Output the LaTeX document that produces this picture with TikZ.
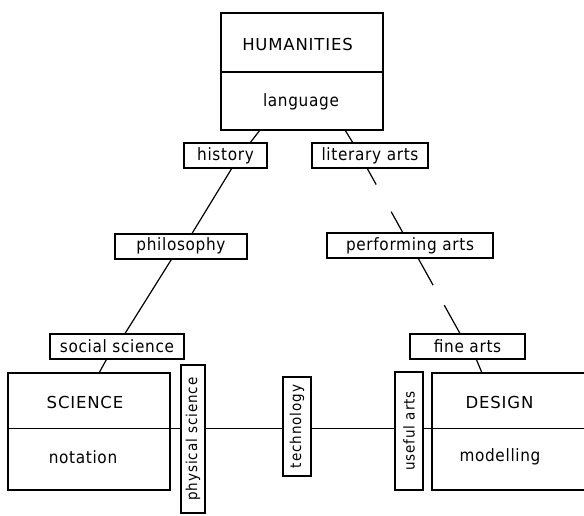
\documentclass[tikz,border=0pt]{standalone}
\usepackage{fontspec}
\usepackage{graphicx}
\usetikzlibrary{calc}
\newfontfamily\labfont[LetterSpace=4]{DejaVu Sans Condensed}
\newfontfamily\capfont[LetterSpace=5]{DejaVu Sans}
\newfontfamily\vfont[LetterSpace=6]{DejaVu Sans Condensed}
\tikzset{
  framebox/.style={draw, line width=2pt, inner sep=0pt, outer sep=0pt},
  lab/.style={framebox, minimum height=25pt, font={\labfont\fontsize{17pt}{19pt}\selectfont}},
  vlab/.style={framebox, font={\vfont\fontsize{15pt}{17pt}\selectfont}},
  bigbox/.style={framebox, minimum height=117pt},
  captext/.style={inner sep=0pt, font={\capfont\fontsize{16.5pt}{18pt}\selectfont}},
  lowtext/.style={inner sep=0pt, font={\labfont\fontsize{17pt}{19pt}\selectfont}},
  conn/.style={line width=1.2pt},
  divider/.style={line width=1.4pt}
}
\begin{document}
\begin{tikzpicture}[x=1pt,y=-1pt]
\useasboundingbox (0,0) rectangle (584,515);
\fill[white] (0,0) rectangle (584,515);
\clip (0,0) rectangle (584,515);

% main boxes
\node[bigbox, minimum width=162pt] (hum) at (302,71.5) {};
\node[captext] (humT) at (297.5,44) {HUMANITIES};
\node[lowtext] (humL) at (301,101.5) {language};
\draw[divider] ($(hum.west)+(0,0.5)$) -- ($(hum.east)+(0,0.5)$);

\node[bigbox, minimum width=162pt] (sci) at (89,431.5) {};
\node[captext] (sciT) at (85,402) {SCIENCE};
\node[lowtext] (sciL) at (83,457) {notation};

\node[bigbox, minimum width=172pt] (des) at (518,431.5) {};
\node[captext] (desT) at (499.5,402) {DESIGN};
\node[lowtext] (desL) at (500,457) {modelling};

% labels
\node[lab, minimum width=83pt] (hist) at (225.5,155.5) {history};
\node[lab, minimum width=116pt] (lit) at (370,155.5) {literary arts};
\node[lab, minimum width=132pt] (phil) at (181,246) {philosophy};
\node[lab, minimum width=166pt] (perf) at (410,245.5) {performing arts};
\node[lab, minimum width=134pt] (soc) at (117,346) {social science};
\node[lab, minimum width=115pt] (fine) at (467.5,346) {fine arts};

% vertical labels
\node[vlab, minimum width=24pt, minimum height=148pt] (phys) at (193,439) {\rotatebox{90}{physical science}};
\node[vlab, minimum width=28pt, minimum height=99pt] (tech) at (297,426.5) {\rotatebox{90}{technology}};
\node[vlab, minimum width=28pt, minimum height=118pt] (use) at (409,431) {\rotatebox{90}{useful arts}};

% horizontal axis
\coordinate (axis) at (0,428.5);
\draw[divider] (sci.west |- axis) -- (sci.east |- axis);
\draw[conn] (sci.east |- axis) -- (phys.west |- axis);
\draw[conn] (phys.east |- axis) -- (tech.west |- axis);
\draw[conn] (tech.east |- axis) -- (use.west |- axis);
\draw[conn] (use.east |- axis) -- (des.west |- axis);
\draw[divider] (des.west |- axis) -- (des.east |- axis);

% connectors
\draw[conn] ($(hum.south west)+(39,0)$) -- ($(hist.north west)+(66,0)$);
\draw[conn] ($(hum.south west)+(124,0)$) -- ($(lit.north west)+(41,0)$);
\draw[conn] ($(hist.south west)+(48,0)$) -- ($(phil.north west)+(77,0)$);
\draw[conn, dash pattern=on 19pt off 31pt on 40pt] ($(lit.south west)+(55,0)$) -- ($(perf.north west)+(76,0)$);
\draw[conn] ($(phil.south west)+(57,0)$) -- ($(soc.north west)+(75,0)$);
\draw[conn, dash pattern=on 31pt off 23pt on 40pt] ($(perf.south west)+(91,0)$) -- ($(fine.north west)+(50,0)$);
\draw[conn] ($(soc.south west)+(57,0)$) -- ($(sci.north west)+(91,0)$);
\draw[conn] ($(fine.south west)+(66,0)$) -- ($(des.north west)+(50,0)$);
\end{tikzpicture}
\end{document}
